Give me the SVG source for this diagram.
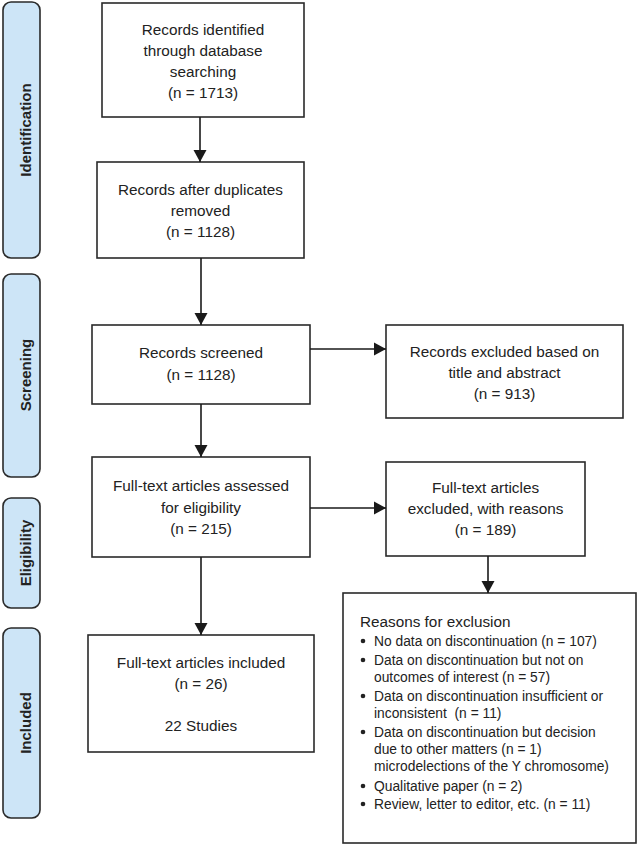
<svg xmlns="http://www.w3.org/2000/svg" width="638" height="845" viewBox="0 0 638 845">
<defs>
<style>
.box{fill:#fff;stroke:#2a2a2a;stroke-width:1.6}
.bar{fill:#cde5f7;stroke:#2a2a2a;stroke-width:1.6}
.t{font-family:"Liberation Sans",Arial,sans-serif;font-size:15.3px;fill:#222;text-anchor:middle}
.lab{font-family:"Liberation Sans",Arial,sans-serif;font-size:15px;font-weight:bold;fill:#222;text-anchor:middle}
.r{font-family:"Liberation Sans",Arial,sans-serif;font-size:13.8px;fill:#222}
.h{font-family:"Liberation Sans",Arial,sans-serif;font-size:15.3px;fill:#222}
.c{fill:none;stroke:#1a1a1a;stroke-width:1.6}
</style>
<marker id="ah" markerUnits="userSpaceOnUse" markerWidth="14" markerHeight="14" viewBox="0 0 14 14" refX="12" refY="7" orient="auto">
<path d="M0,0.5 L12,7 L0,13.5 Z" fill="#1a1a1a"/>
</marker>
</defs>
<rect width="638" height="845" fill="#fff"/>

<g id="bar-identification">
<rect class="bar" x="3" y="2" width="37" height="256" rx="8"/>
<text class="lab" transform="translate(30.5,130) rotate(-90)">Identification</text>
</g>
<g id="bar-screening">
<rect class="bar" x="3" y="274" width="37" height="203" rx="8"/>
<text class="lab" transform="translate(30.5,375) rotate(-90)">Screening</text>
</g>
<g id="bar-eligibility">
<rect class="bar" x="3" y="498" width="37" height="110" rx="8"/>
<text class="lab" transform="translate(30.5,553) rotate(-90)">Eligibility</text>
</g>
<g id="bar-included">
<rect class="bar" x="3" y="628" width="37" height="190" rx="8"/>
<text class="lab" transform="translate(30.5,723) rotate(-90)">Included</text>
</g>

<g id="n-identified">
<rect class="box" x="102" y="3" width="202" height="114"/>
<text class="t" x="203" y="35">Records identified</text>
<text class="t" x="203" y="56">through database</text>
<text class="t" x="203" y="77">searching</text>
<text class="t" x="203" y="98">(n = 1713)</text>
</g>
<g id="n-duplicates">
<rect class="box" x="97" y="162" width="207" height="96"/>
<text class="t" x="200.5" y="195">Records after duplicates</text>
<text class="t" x="200.5" y="216">removed</text>
<text class="t" x="200.5" y="237">(n = 1128)</text>
</g>
<g id="n-screened">
<rect class="box" x="92" y="325" width="218" height="79"/>
<text class="t" x="201" y="358">Records screened</text>
<text class="t" x="201" y="380">(n = 1128)</text>
</g>
<g id="n-excluded-title">
<rect class="box" x="386" y="325" width="237" height="93"/>
<text class="t" x="504.5" y="357">Records excluded based on</text>
<text class="t" x="504.5" y="378">title and abstract</text>
<text class="t" x="504.5" y="399">(n = 913)</text>
</g>
<g id="n-assessed">
<rect class="box" x="92" y="457" width="218" height="100"/>
<text class="t" x="201" y="491">Full-text articles assessed</text>
<text class="t" x="201" y="513">for eligibility</text>
<text class="t" x="201" y="534">(n = 215)</text>
</g>
<g id="n-excluded-ft">
<rect class="box" x="386" y="462" width="199" height="94"/>
<text class="t" x="485.5" y="493">Full-text articles</text>
<text class="t" x="485.5" y="514">excluded, with reasons</text>
<text class="t" x="485.5" y="535">(n = 189)</text>
</g>
<g id="n-reasons">
<rect class="box" x="343" y="593" width="293" height="250"/>
<text class="h" x="360" y="627">Reasons for exclusion</text>
<g fill="#222">
<circle cx="363" cy="641" r="2.3"/>
<circle cx="363" cy="660" r="2.3"/>
<circle cx="363" cy="696" r="2.3"/>
<circle cx="363" cy="732" r="2.3"/>
<circle cx="363" cy="786" r="2.3"/>
<circle cx="363" cy="804" r="2.3"/>
</g>
<text class="r" x="374" y="646">No data on discontinuation (n = 107)</text>
<text class="r" x="374" y="665">Data on discontinuation but not on</text>
<text class="r" x="374" y="682">outcomes of interest (n = 57)</text>
<text class="r" x="374" y="701">Data on discontinuation insufficient or</text>
<text class="r" x="374" y="718" xml:space="preserve">inconsistent  (n = 11)</text>
<text class="r" x="374" y="737">Data on discontinuation but decision</text>
<text class="r" x="374" y="754">due to other matters (n = 1)</text>
<text class="r" x="374" y="771">microdelections of the Y chromosome)</text>
<text class="r" x="374" y="791">Qualitative paper (n = 2)</text>
<text class="r" x="374" y="809">Review, letter to editor, etc. (n = 11)</text>
</g>
<g id="n-included">
<rect class="box" x="88" y="635" width="226" height="117"/>
<text class="t" x="201" y="668">Full-text articles included</text>
<text class="t" x="201" y="689">(n = 26)</text>
<text class="t" x="201" y="731">22 Studies</text>
</g>

<g id="connectors">
<line class="c" x1="200" y1="117" x2="200" y2="162" marker-end="url(#ah)"/>
<line class="c" x1="201" y1="258" x2="201" y2="325" marker-end="url(#ah)"/>
<line class="c" x1="310" y1="349" x2="386" y2="349" marker-end="url(#ah)"/>
<line class="c" x1="201" y1="404" x2="201" y2="457" marker-end="url(#ah)"/>
<line class="c" x1="310" y1="508" x2="386" y2="508" marker-end="url(#ah)"/>
<line class="c" x1="488" y1="556" x2="488" y2="593" marker-end="url(#ah)"/>
<line class="c" x1="201" y1="557" x2="201" y2="635" marker-end="url(#ah)"/>
</g>
</svg>
